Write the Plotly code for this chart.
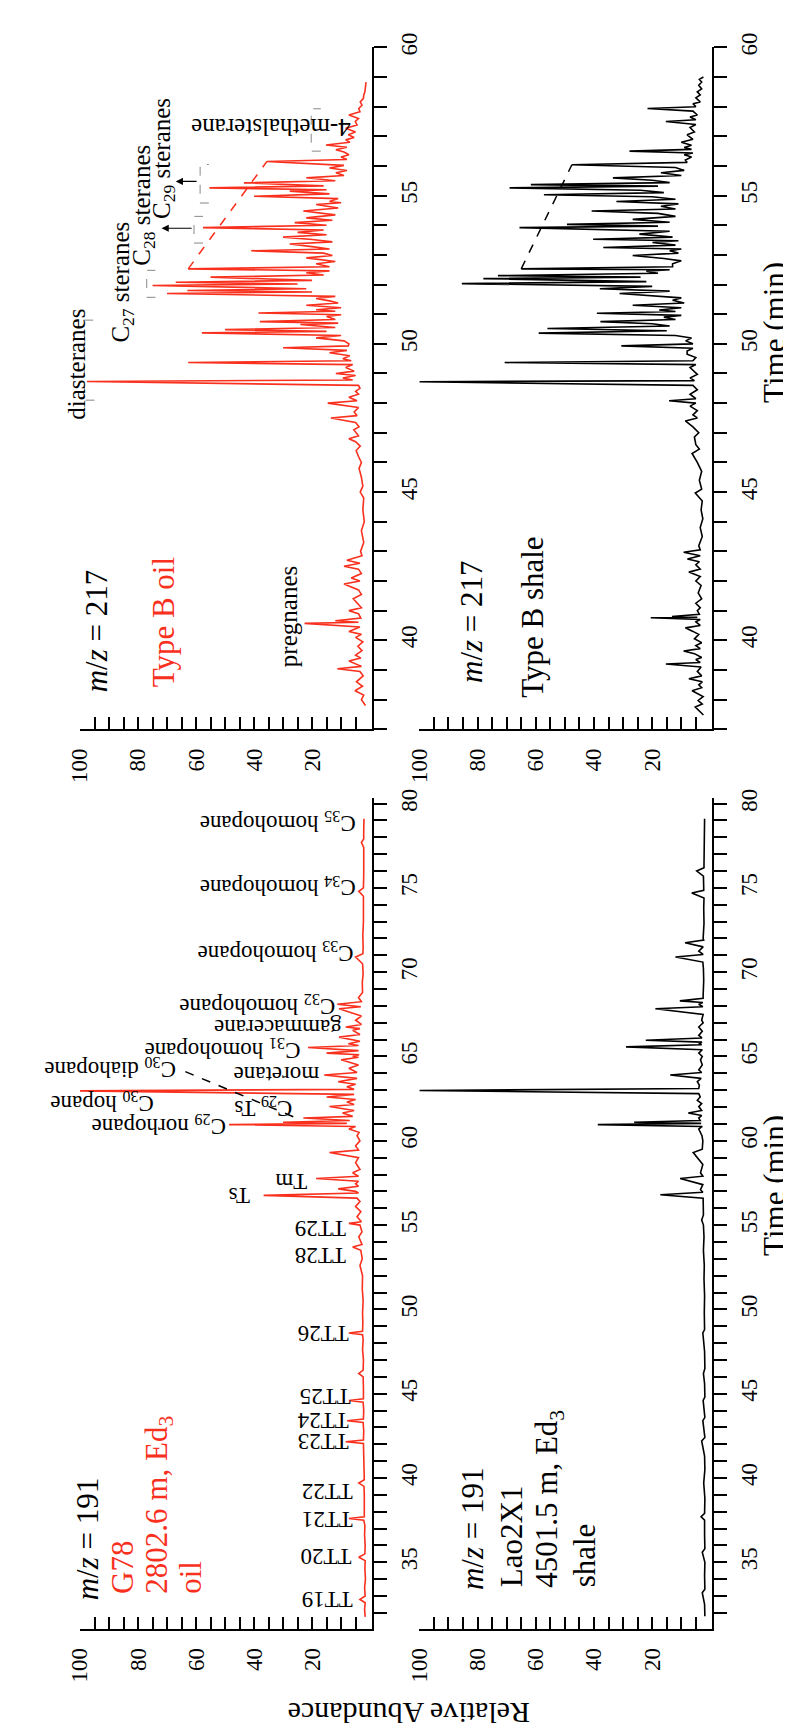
import plotly.graph_objects as go

# ---------------- data (time in min, relative abundance %) ----------------
oil217 = [(37.8,1.6),(38.0,3.0),(38.15,2.2),(38.3,5.2),(38.45,2.6),(38.6,4.7),(38.8,2.4),(38.95,3.5),(39.04,11.3),(39.12,3.0),(39.3,7.3),(39.4,3.2),(39.5,5.0),(39.65,2.8),(39.8,4.2),(39.95,2.5),(40.1,5.0),(40.2,3.0),(40.3,7.3),(40.45,3.5),(40.57,22.6),(40.61,4.0),(40.66,12.0),(40.75,3.2),(40.9,4.0),(41.0,7.3),(41.1,3.0),(41.25,4.5),(41.4,5.8),(41.55,3.0),(41.7,4.0),(41.9,9.0),(42.0,3.5),(42.1,6.5),(42.25,3.0),(42.4,4.0),(42.5,9.0),(42.6,3.5),(42.7,8.0),(42.85,2.8),(43.0,3.3),(43.3,2.2),(43.7,3.0),(44.0,2.0),(44.4,2.5),(44.8,2.2),(45.0,3.4),(45.2,2.5),(45.5,3.0),(45.8,3.8),(46.0,3.0),(46.2,4.0),(46.4,4.8),(46.55,3.4),(46.7,5.0),(46.8,7.3),(46.9,4.0),(47.1,5.6),(47.2,3.8),(47.35,5.0),(47.5,13.5),(47.58,4.5),(47.7,5.5),(47.85,4.0),(48.0,14.6),(48.08,4.5),(48.2,7.3),(48.3,4.0),(48.4,5.0),(48.5,3.5),(48.6,4.0),(48.73,97.6),(48.78,6.0),(48.85,9.4),(48.93,5.0),(49.0,11.8),(49.08,5.5),(49.2,8.4),(49.3,6.0),(49.37,62.7),(49.43,6.5),(49.5,9.4),(49.6,7.0),(49.7,14.0),(49.78,8.0),(49.87,30.0),(49.93,7.5),(50.0,7.3),(50.1,9.0),(50.2,18.6),(50.28,10.0),(50.37,58.0),(50.42,15.0),(50.48,50.0),(50.55,12.0),(50.65,24.0),(50.7,11.0),(50.75,38.0),(50.82,12.0),(50.92,15.0),(50.98,10.0),(51.04,38.5),(51.1,12.0),(51.15,18.6),(51.22,10.0),(51.3,22.0),(51.38,11.0),(51.45,14.0),(51.53,18.6),(51.6,12.0),(51.7,70.0),(51.75,20.0),(51.8,63.0),(51.86,22.0),(51.97,75.0),(52.02,25.0),(52.08,67.0),(52.14,20.0),(52.25,55.0),(52.32,16.0),(52.4,22.0),(52.46,14.0),(52.53,62.7),(52.6,14.0),(52.7,18.6),(52.78,12.0),(52.9,22.0),(52.98,13.0),(53.06,16.0),(53.14,41.0),(53.2,14.0),(53.28,20.0),(53.37,27.7),(53.44,13.0),(53.52,20.0),(53.6,30.0),(53.68,15.0),(53.76,25.0),(53.84,16.0),(53.92,57.6),(54.0,15.0),(54.09,26.0),(54.17,13.0),(54.25,22.0),(54.35,12.0),(54.48,23.0),(54.58,11.0),(54.7,18.6),(54.76,10.0),(54.8,14.0),(54.9,11.0),(54.98,40.0),(55.06,14.0),(55.15,27.7),(55.2,15.0),(55.26,55.4),(55.33,16.0),(55.43,43.5),(55.5,12.0),(55.6,22.0),(55.68,9.0),(55.77,11.8),(55.85,8.0),(55.93,14.0),(56.02,9.0),(56.15,35.6),(56.22,8.0),(56.3,10.0),(56.38,7.3),(56.47,9.0),(56.55,11.8),(56.63,8.0),(56.71,15.2),(56.8,7.0),(56.88,8.4),(56.96,5.5),(57.05,7.5),(57.15,5.0),(57.27,8.4),(57.38,4.5),(57.5,5.1),(57.6,4.0),(57.72,7.3),(57.83,3.5),(57.94,3.9),(58.05,2.8),(58.16,3.4),(58.28,2.3),(58.39,2.2),(58.5,1.8),(58.67,1.6),(58.83,1.4)]

shale217 = [(37.48,2.4),(37.6,3.5),(37.75,5.2),(37.85,2.8),(37.97,4.2),(38.1,2.5),(38.3,6.3),(38.4,3.0),(38.5,4.0),(38.6,2.8),(38.7,7.4),(38.8,3.0),(38.95,4.5),(39.1,3.2),(39.2,15.3),(39.25,3.5),(39.35,5.0),(39.42,3.0),(39.55,5.5),(39.64,9.2),(39.72,3.5),(39.82,5.0),(39.92,3.0),(40.05,5.5),(40.2,4.0),(40.3,6.0),(40.42,8.6),(40.5,3.5),(40.62,5.0),(40.7,3.5),(40.76,20.5),(40.78,4.5),(40.8,13.2),(40.88,3.8),(41.0,4.5),(41.1,3.5),(41.25,5.0),(41.4,3.0),(41.6,4.2),(41.85,3.2),(42.0,5.0),(42.15,3.5),(42.3,7.4),(42.4,3.5),(42.55,5.0),(42.65,3.8),(42.74,7.9),(42.85,3.5),(42.97,9.2),(43.05,3.5),(43.19,4.0),(43.5,2.8),(43.8,3.5),(44.1,2.6),(44.4,3.2),(44.7,2.8),(44.97,5.2),(45.1,3.0),(45.4,3.8),(45.7,3.0),(46.0,4.5),(46.3,6.3),(46.45,3.8),(46.6,5.0),(46.86,5.5),(47.0,4.0),(47.2,6.0),(47.4,8.6),(47.5,4.5),(47.6,6.0),(47.75,4.5),(47.9,7.0),(48.0,5.0),(48.08,14.2),(48.15,5.0),(48.3,7.0),(48.45,4.5),(48.6,6.0),(48.72,100.0),(48.76,5.5),(48.85,7.0),(48.97,4.5),(49.1,6.0),(49.2,7.0),(49.3,5.0),(49.37,70.7),(49.43,6.0),(49.54,5.0),(49.65,8.0),(49.76,8.0),(49.85,6.0),(49.93,30.6),(50.0,6.0),(50.1,8.5),(50.2,6.5),(50.28,12.0),(50.36,59.0),(50.44,15.0),(50.52,56.0),(50.6,14.0),(50.68,20.0),(50.75,37.8),(50.82,12.0),(50.9,16.0),(50.96,10.0),(51.03,39.0),(51.09,12.0),(51.14,17.6),(51.22,10.0),(51.3,26.7),(51.38,9.0),(51.47,13.0),(51.55,10.0),(51.7,31.2),(51.78,14.0),(51.86,38.0),(51.94,20.0),(52.03,85.4),(52.1,22.0),(52.2,78.0),(52.25,24.0),(52.3,73.0),(52.38,18.0),(52.45,22.0),(52.5,14.0),(52.53,65.0),(52.6,13.0),(52.7,13.0),(52.8,10.0),(52.88,16.0),(52.98,26.7),(53.06,11.0),(53.14,14.0),(53.2,10.0),(53.25,36.8),(53.33,12.0),(53.42,19.9),(53.48,11.0),(53.53,40.3),(53.6,13.0),(53.7,24.4),(53.8,14.0),(53.92,65.6),(53.97,18.0),(54.03,49.3),(54.1,14.0),(54.2,26.7),(54.3,12.0),(54.4,18.0),(54.48,40.8),(54.55,12.0),(54.64,17.0),(54.72,11.0),(54.8,32.3),(54.88,12.0),(54.96,20.0),(55.03,57.2),(55.1,16.0),(55.18,24.0),(55.26,69.0),(55.32,18.0),(55.37,61.7),(55.44,14.0),(55.52,20.0),(55.6,33.5),(55.68,10.0),(55.77,17.0),(55.85,9.0),(55.95,12.0),(56.04,47.6),(56.12,8.0),(56.2,8.6),(56.3,6.5),(56.38,9.0),(56.44,6.0),(56.5,27.8),(56.56,6.5),(56.62,9.0),(56.7,6.5),(56.8,10.0),(56.9,6.0),(57.05,8.0),(57.15,5.5),(57.3,7.0),(57.4,5.0),(57.5,15.3),(57.56,5.0),(57.65,7.0),(57.72,4.5),(57.85,6.0),(57.94,21.6),(58.0,5.0),(58.1,6.0),(58.16,3.5),(58.3,5.0),(58.4,3.5),(58.5,4.5),(58.6,3.0),(58.72,4.0),(58.83,3.0),(58.92,3.8),(59.0,2.4)]

oil191 = [(31.76,1.7),(32.2,1.9),(32.6,1.7),(32.8,3.5),(33.0,1.7),(33.5,1.9),(34.0,1.6),(34.6,1.8),(35.1,1.7),(35.3,3.9),(35.5,1.8),(36.0,1.7),(36.6,1.9),(37.2,1.8),(37.5,2.2),(37.6,7.3),(37.7,2.0),(38.3,1.9),(39.0,2.0),(39.5,2.1),(39.7,3.9),(39.9,2.0),(40.5,2.1),(41.2,2.0),(41.8,2.2),(42.05,2.3),(42.15,8.4),(42.25,2.3),(42.8,2.2),(43.3,2.4),(43.4,7.9),(43.5,2.3),(44.0,2.2),(44.5,2.4),(44.6,7.3),(44.7,2.3),(45.3,2.3),(46.0,2.4),(46.2,3.9),(46.4,2.4),(47.0,2.3),(47.6,2.6),(48.2,2.4),(48.5,2.6),(48.6,7.3),(48.7,2.6),(49.2,2.5),(49.8,2.6),(50.5,2.4),(51.2,2.7),(52.0,2.6),(52.6,3.5),(53.0,2.7),(53.5,3.2),(53.7,6.0),(53.85,2.8),(54.3,3.9),(54.6,2.8),(55.0,3.5),(55.1,7.3),(55.2,3.0),(55.5,4.5),(55.8,3.2),(56.1,5.0),(56.4,3.5),(56.6,4.5),(56.76,36.7),(56.9,4.0),(57.0,5.0),(57.15,11.0),(57.3,4.0),(57.45,5.0),(57.6,4.0),(57.76,18.6),(57.9,4.0),(58.1,6.0),(58.3,3.5),(58.7,5.0),(59.0,4.0),(59.3,14.0),(59.45,4.0),(59.7,5.0),(60.0,3.5),(60.3,4.5),(60.5,3.8),(60.7,7.3),(60.85,5.0),(60.96,48.6),(61.03,8.0),(61.1,30.0),(61.2,7.0),(61.35,23.0),(61.45,6.0),(61.65,9.5),(61.8,5.5),(62.03,14.0),(62.15,5.5),(62.3,8.0),(62.45,5.0),(62.6,15.0),(62.75,5.5),(62.96,100.0),(63.05,5.5),(63.2,8.0),(63.35,5.0),(63.5,11.0),(63.7,4.5),(63.9,15.8),(64.05,4.5),(64.3,7.3),(64.5,4.0),(64.8,10.0),(64.95,4.0),(65.0,6.0),(65.1,3.8),(65.2,15.0),(65.35,4.0),(65.53,21.4),(65.65,4.0),(65.76,7.5),(65.9,3.5),(66.15,10.7),(66.3,3.5),(66.55,6.0),(66.65,3.5),(66.75,8.4),(66.9,3.0),(67.15,5.0),(67.4,3.0),(67.83,10.7),(67.95,3.2),(68.1,11.3),(68.25,3.0),(68.5,4.0),(68.8,2.6),(69.4,2.7),(69.9,2.4),(70.5,2.6),(70.9,5.0),(71.1,2.5),(71.45,2.4),(72.2,2.5),(73.0,2.3),(73.8,2.2),(74.5,2.3),(74.8,3.9),(75.0,2.3),(75.8,2.2),(76.5,2.3),(77.4,2.2),(77.7,3.0),(77.9,2.2),(78.5,2.2),(79.1,2.1)]

shale191 = [(31.8,1.9),(32.5,2.0),(33.2,2.8),(33.4,1.9),(34.2,2.0),(35.0,1.9),(35.6,2.8),(35.8,1.9),(36.6,2.0),(37.5,2.0),(37.7,3.2),(37.9,2.0),(38.8,1.9),(39.7,2.3),(40.5,1.9),(41.3,2.0),(42.2,3.0),(42.4,1.9),(43.4,2.6),(43.6,1.9),(44.6,2.5),(44.8,1.9),(45.6,2.0),(46.2,2.4),(46.5,1.9),(47.5,2.0),(48.6,2.6),(48.8,2.0),(49.8,2.1),(50.8,2.0),(51.8,2.2),(52.6,2.1),(53.5,2.4),(54.3,2.2),(55.0,2.4),(55.3,3.0),(55.6,2.4),(56.2,2.6),(56.6,2.5),(56.8,17.2),(56.95,2.6),(57.1,3.4),(57.4,2.6),(57.76,10.4),(57.9,2.6),(58.1,3.4),(58.6,2.6),(59.3,5.9),(59.5,2.8),(60.0,2.6),(60.3,2.9),(60.7,4.0),(60.85,2.8),(60.96,38.7),(61.03,3.2),(61.1,26.2),(61.2,3.5),(61.35,4.0),(61.5,3.0),(61.65,7.6),(61.8,3.0),(62.03,4.0),(62.2,3.0),(62.4,4.5),(62.6,3.5),(62.8,4.0),(62.98,100.0),(63.1,4.0),(63.3,3.8),(63.5,4.5),(63.7,3.2),(63.9,13.8),(64.05,3.0),(64.2,4.0),(64.5,2.8),(64.8,3.4),(65.0,2.8),(65.2,4.0),(65.4,2.8),(65.57,29.0),(65.7,3.0),(65.76,4.0),(65.85,2.9),(65.96,22.2),(66.1,2.9),(66.25,4.0),(66.5,2.8),(66.75,4.0),(67.0,2.5),(67.15,3.0),(67.5,2.5),(67.83,18.9),(67.95,2.6),(68.1,4.0),(68.2,2.6),(68.3,10.5),(68.45,2.5),(68.6,2.5),(69.0,2.3),(69.5,2.3),(70.2,2.4),(70.6,2.6),(70.9,12.0),(71.05,2.5),(71.25,4.0),(71.5,2.5),(71.75,8.7),(71.9,2.3),(72.0,2.5),(72.9,2.2),(73.8,2.3),(74.4,2.2),(74.7,6.4),(74.85,2.3),(75.0,2.3),(75.7,2.4),(76.0,4.7),(76.2,2.2),(76.4,2.2),(77.5,2.1),(78.5,2.2),(79.1,2.0)]

abund_ticks = [20, 40, 60, 80, 100]

# peak labels for m/z 191 oil (upside down): text, abundance at label end, time
labels191 = [("C<sub>35</sub> homohopane", 4.4, 78.9), ("C<sub>34</sub> homohopane", 4.4, 75.1),
             ("C<sub>33</sub> homohopane", 5.1, 71.2), ("C<sub>32</sub> homohopane", 11.2, 68.05),
             ("gammacerane", 9.2, 66.75), ("C<sub>31</sub> homohopane", 23.4, 65.45),
             ("C<sub>30</sub> diahopane", 66.4, 64.35), ("moretane", 16.9, 63.9),
             ("C<sub>30</sub> hopane", 74.0, 62.3), ("C<sub>29</sub> Ts", 26.0, 62.0),
             ("C<sub>29</sub> norhopane", 49.0, 60.9), ("Ts", 40.7, 56.76), ("Tm", 21.0, 57.6),
             ("TT29", 7.8, 54.8), ("TT28", 7.8, 53.2), ("TT26", 6.8, 48.6), ("TT25", 6.1, 44.8),
             ("TT24", 6.8, 43.45), ("TT23", 6.8, 42.15), ("TT22", 5.4, 39.2), ("TT21", 5.4, 37.5),
             ("TT20", 5.8, 35.3), ("TT19", 5.4, 32.8)]

RED = '#f8301d'
FONT = 'Liberation Serif'
W, H = 791, 1731

XL = [60 / W, 357 / W]
XR = [405 / W, 703 / W]
YT = [1 - 713 / H, 1 - 25 / H]
YB = [1 - 1620 / H, 1 - 782 / H]

fig = go.Figure()
series = [(oil217, RED, 'x', 'y'), (shale217, 'black', 'x2', 'y2'),
          (oil191, RED, 'x3', 'y3'), (shale191, 'black', 'x4', 'y4')]
for pts, col, xa, ya in series:
    fig.add_trace(go.Scatter(x=[p[1] for p in pts], y=[p[0] for p in pts], mode='lines',
                             line=dict(color=col, width=1.6), xaxis=xa, yaxis=ya,
                             hoverinfo='skip', showlegend=False))

# dashed connector lines
dashes = [([52.53, 56.15], [62.7, 35.6], RED, 'x', 'y'),
          ([52.53, 56.04], [65.0, 47.6], 'black', 'x2', 'y2'),
          ([64.1, 61.35], [63.7, 25.4], 'black', 'x3', 'y3')]
for ts, ab, col, xa, ya in dashes:
    fig.add_trace(go.Scatter(x=ab, y=ts, mode='lines', line=dict(color=col, width=1.5, dash='dash'),
                             xaxis=xa, yaxis=ya, hoverinfo='skip', showlegend=False))

# grey dashed brackets (m/z 217 oil): t1, t2, abundance of bracket, abundance of ends
brackets = [(48.1, 50.8, 98.5, 95.0), (51.57, 52.48, 77.0, 74.0), (53.4, 54.3, 60.7, 57.6),
            (54.75, 56.05, 58.6, 55.6), (56.5, 57.93, 20.3, 17.0)]
for t1, t2, av, ae in brackets:
    fig.add_trace(go.Scatter(x=[ae, av, av, ae], y=[t1, t1, t2, t2], mode='lines',
                             line=dict(color='#888888', width=1, dash='dash'),
                             xaxis='x', yaxis='y', hoverinfo='skip', showlegend=False))


def xax(dom, anchor):
    return dict(domain=dom, anchor=anchor, side='bottom', range=[100, -0.7], tickmode='array',
                tickvals=abund_ticks,
                ticks='inside', ticklen=12, tickwidth=1.5, tickcolor='black',
                showline=True, linecolor='black', linewidth=2, showgrid=False, zeroline=False,
                tickangle=-90, ticklabelstandoff=8,
                tickfont=dict(family=FONT, size=23, color='black'),
                minor=dict(tickmode='array', tickvals=list(range(5, 100, 5)), ticks='inside',
                           ticklen=12, tickwidth=1.5, tickcolor='black', showgrid=False))


def yax(dom, anchor, rng):
    return dict(domain=dom, anchor=anchor, side='right', range=rng, tickmode='linear', tick0=0, dtick=5,
                ticks='outside', ticklen=13, tickwidth=1.5, tickcolor='black',
                showline=True, linecolor='black', linewidth=2, showgrid=False, zeroline=False,
                tickangle=-90, ticklabelstandoff=2,
                tickfont=dict(family=FONT, size=23, color='black'),
                minor=dict(tickmode='linear', tick0=0, dtick=1, ticks='outside', ticklen=13,
                           tickwidth=1.5, tickcolor='black', showgrid=False))


TR_T = [37.0, 60.02]
TR_B = [31.05, 80.35]
fig.update_layout(
    width=W, height=H, margin=dict(l=0, r=0, t=0, b=0),
    paper_bgcolor='white', plot_bgcolor='white', showlegend=False,
    font=dict(family=FONT, color='black'),
    xaxis=xax(XL, 'y'), yaxis=yax(YT, 'x', TR_T),
    xaxis2=xax(XR, 'y2'), yaxis2=yax(YT, 'x2', TR_T),
    xaxis3=xax(XL, 'y3'), yaxis3=yax(YB, 'x3', TR_B),
    xaxis4=xax(XR, 'y4'), yaxis4=yax(YB, 'x4', TR_B),
)

anns = []


def A(text, x, y, xref, yref, angle, xa, ya, size, color='black'):
    anns.append(dict(text=text, x=x, y=y, xref=xref, yref=yref, textangle=angle, xanchor=xa, yanchor=ya,
                     showarrow=False, font=dict(family=FONT, size=size, color=color)))


MZ = '<i>m</i>/<i>z</i> = '
# top-left: m/z 217 oil
A(MZ + '217', 94.2, 38.19, 'x', 'y', -90, 'center', 'bottom', 31)
A('Type B oil', 71.2, 38.33, 'x', 'y', -90, 'center', 'bottom', 31, RED)
A('pregnanes', 28.1, 39.03, 'x', 'y', -90, 'center', 'bottom', 25)
A('diasteranes', 57 / W, 47.36, 'paper', 'y', -90, 'center', 'bottom', 25)
A('C<sub>27</sub> steranes', 85.4, 49.97, 'x', 'y', -90, 'center', 'bottom', 25)
A('C<sub>28</sub> steranes', 78.0, 52.58, 'x', 'y', -90, 'center', 'bottom', 25)
A('C<sub>29</sub> steranes', 71.2, 54.15, 'x', 'y', -90, 'center', 'bottom', 25)
A('4-methalsterane', 6.1, 57.3, 'x', 'y', 180, 'right', 'middle', 25)
# top-right: m/z 217 shale
A(MZ + '217', 82.0, 38.5, 'x2', 'y2', -90, 'center', 'bottom', 31)
A('Type B shale', 61.4, 38.0, 'x2', 'y2', -90, 'center', 'bottom', 31)
# bottom-left: m/z 191 oil
A(MZ + '191', 97.3, 32.65, 'x3', 'y3', -90, 'center', 'bottom', 31)
A('G78', 85.4, 33.0, 'x3', 'y3', -90, 'center', 'bottom', 31, RED)
A('2802.6 m, Ed<sub>3</sub>', 72.9, 33.0, 'x3', 'y3', -90, 'center', 'bottom', 31, RED)
A('oil', 62.0, 33.0, 'x3', 'y3', -90, 'center', 'bottom', 31, RED)
for txt, ab, t in labels191:
    A(txt, ab, t, 'x3', 'y3', 180, 'right', 'middle', 23)
# bottom-right: m/z 191 shale
A(MZ + '191', 81.7, 33.24, 'x4', 'y4', -90, 'center', 'bottom', 31)
A('Lao2X1', 68.5, 33.4, 'x4', 'y4', -90, 'center', 'bottom', 31)
A('4501.5 m, Ed<sub>3</sub>', 55.3, 33.4, 'x4', 'y4', -90, 'center', 'bottom', 31)
A('shale', 43.4, 33.4, 'x4', 'y4', -90, 'center', 'bottom', 31)
# axis titles
A('Relative Abundance', 395 / W, 1 - 1706 / H, 'paper', 'paper', 180, 'center', 'middle', 30)
A('Time (min)', 766 / W, 1 - 313 / H, 'paper', 'paper', -90, 'center', 'middle', 31)
A('Time (min)', 766 / W, 1 - 1173 / H, 'paper', 'paper', -90, 'center', 'middle', 31)

# arrows pointing to C28 / C29 sterane labels
for head, tail, t in [(71.9, 61.0, 53.9), (67.0, 59.3, 55.48)]:
    anns.append(dict(x=head, y=t, ax=tail, ay=t, xref='x', yref='y', axref='x', ayref='y',
                     text='', showarrow=True, arrowhead=2, arrowsize=1.2, arrowwidth=1.2,
                     arrowcolor='black'))

fig.update_layout(annotations=anns)
fig.write_html('out.html')
